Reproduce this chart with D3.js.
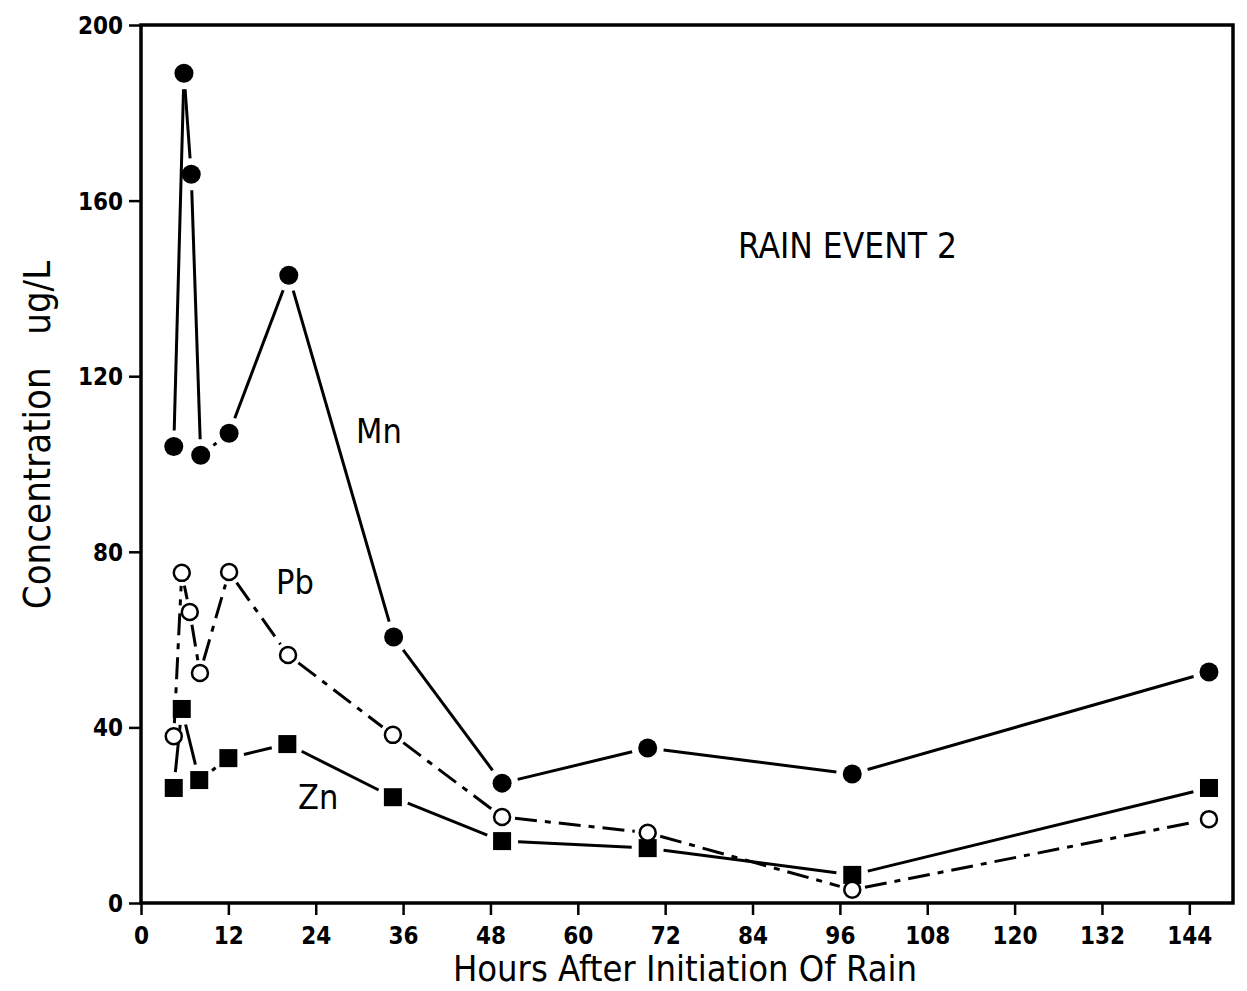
<!DOCTYPE html>
<html lang="en">
<head>
  <meta charset="utf-8">
  <title>Rain Event 2</title>
  <script src="https://d3js.org/d3.v7.min.js"></script>
  <style>
    body { margin: 0; background: #fff; }
    svg { display: block; }
    text { font-family: "Liberation Sans Narrow", "DejaVu Sans Condensed", "Liberation Sans", sans-serif; fill: #000; }
    .tick text { font-size: 24px; font-weight: bold; }
  </style>
</head>
<body>
  <svg></svg>
  <script>
    // hours after rain started
    const hoursMn = [4.5, 5.9, 6.9, 8.2, 12.1, 20.3, 34.7, 49.6, 69.6, 97.7, 146.7];
    const mn      = [104, 189, 166, 102, 107, 143, 60.6, 27.3, 35.3, 29.4, 52.6];
    const hoursPb = [4.5, 5.6, 6.7, 8.1, 12.1, 20.2, 34.6, 49.6, 69.6, 97.7, 146.7];
    const pb      = [38, 75.2, 66.3, 52.4, 75.4, 56.5, 38.3, 19.6, 16, 3, 19.1];
    const hoursZn = [4.5, 5.6, 8.0, 12.0, 20.1, 34.6, 49.6, 69.6, 97.7, 146.7];
    const zn      = [26.2, 44.2, 28, 33, 36.2, 24.1, 14.1, 12.5, 6.4, 26.2];

    const xTicks = d3.range(0, 145, 12);
    const yTicks = [0, 40, 80, 120, 160, 200];

    const width = 1247, height = 991;
    const margin = { top: 25, right: 14, bottom: 88, left: 141 };

    const svg = d3.select("svg").attr("width", width).attr("height", height);

    const x = d3.scaleLinear().domain([0, 150]).range([margin.left, width - margin.right]);
    const y = d3.scaleLinear().domain([0, 200]).range([height - margin.bottom, margin.top]);

    // axes
    const xAxis = svg.append("g")
      .attr("transform", `translate(0,${y(0)})`)
      .call(d3.axisBottom(x).tickValues(xTicks).tickSize(12).tickPadding(6).tickFormat(d3.format("d")));
    const yAxis = svg.append("g")
      .attr("transform", `translate(${x(0)},0)`)
      .call(d3.axisLeft(y).tickValues(yTicks).tickSize(12).tickPadding(6));
    [xAxis, yAxis].forEach(a => {
      a.select(".domain").remove();
      a.selectAll(".tick line").attr("stroke", "#000").attr("stroke-width", 2.5);
    });
    xAxis.selectAll(".tick text").attr("dy", "0.95em");
    yAxis.selectAll(".tick text").attr("dy", "0.35em");

    // frame
    svg.append("rect")
      .attr("x", x(0)).attr("y", y(200))
      .attr("width", x(150) - x(0)).attr("height", y(0) - y(200))
      .attr("fill", "none").attr("stroke", "#000").attr("stroke-width", 3.5);

    // segments stop short of the markers
    function drawSeries(hours, vals, dash, gap) {
      const pts = hours.map((h, i) => [x(h), y(vals[i])]);
      const g = svg.append("g");
      for (let i = 0; i < pts.length - 1; i++) {
        const [x1, y1] = pts[i], [x2, y2] = pts[i + 1];
        const dx = x2 - x1, dy = y2 - y1, len = Math.sqrt(dx * dx + dy * dy);
        if (len <= gap * 2 + 2) continue;
        const ux = dx / len, uy = dy / len;
        g.append("line")
          .attr("x1", x1 + ux * gap).attr("y1", y1 + uy * gap)
          .attr("x2", x2 - ux * gap).attr("y2", y2 - uy * gap)
          .attr("stroke", "#000").attr("stroke-width", 3)
          .attr("stroke-dasharray", dash);
      }
      return pts;
    }

    const mnPts = drawSeries(hoursMn, mn, null, 16);
    const pbPts = drawSeries(hoursPb, pb, "22,8,6,8", 13);
    const znPts = drawSeries(hoursZn, zn, null, 16);

    svg.append("g").selectAll("rect").data(znPts).join("rect")
      .attr("x", d => d[0] - 9).attr("y", d => d[1] - 9)
      .attr("width", 18).attr("height", 18).attr("fill", "#000");

    svg.append("g").selectAll("circle").data(pbPts).join("circle")
      .attr("cx", d => d[0]).attr("cy", d => d[1]).attr("r", 8)
      .attr("fill", "#fff").attr("stroke", "#000").attr("stroke-width", 2.5);

    svg.append("g").selectAll("circle").data(mnPts).join("circle")
      .attr("cx", d => d[0]).attr("cy", d => d[1]).attr("r", 9.5)
      .attr("fill", "#000");

    // labels
    svg.append("text").attr("x", 738).attr("y", 258).attr("font-size", 35).text("RAIN EVENT 2");
    svg.append("text").attr("x", 356).attr("y", 443).attr("font-size", 34).text("Mn");
    svg.append("text").attr("x", 276).attr("y", 594).attr("font-size", 34).text("Pb");
    svg.append("text").attr("x", 298).attr("y", 809).attr("font-size", 34).text("Zn");

    svg.append("text")
      .attr("x", 685).attr("y", 981)
      .attr("text-anchor", "middle").attr("font-size", 36)
      .text("Hours After Initiation Of Rain");
    svg.append("text")
      .attr("transform", `translate(50,435) rotate(-90)`)
      .attr("text-anchor", "middle").attr("font-size", 38)
      .attr("xml:space", "preserve")
      .text("Concentration   ug/L");
  </script>
</body>
</html>
